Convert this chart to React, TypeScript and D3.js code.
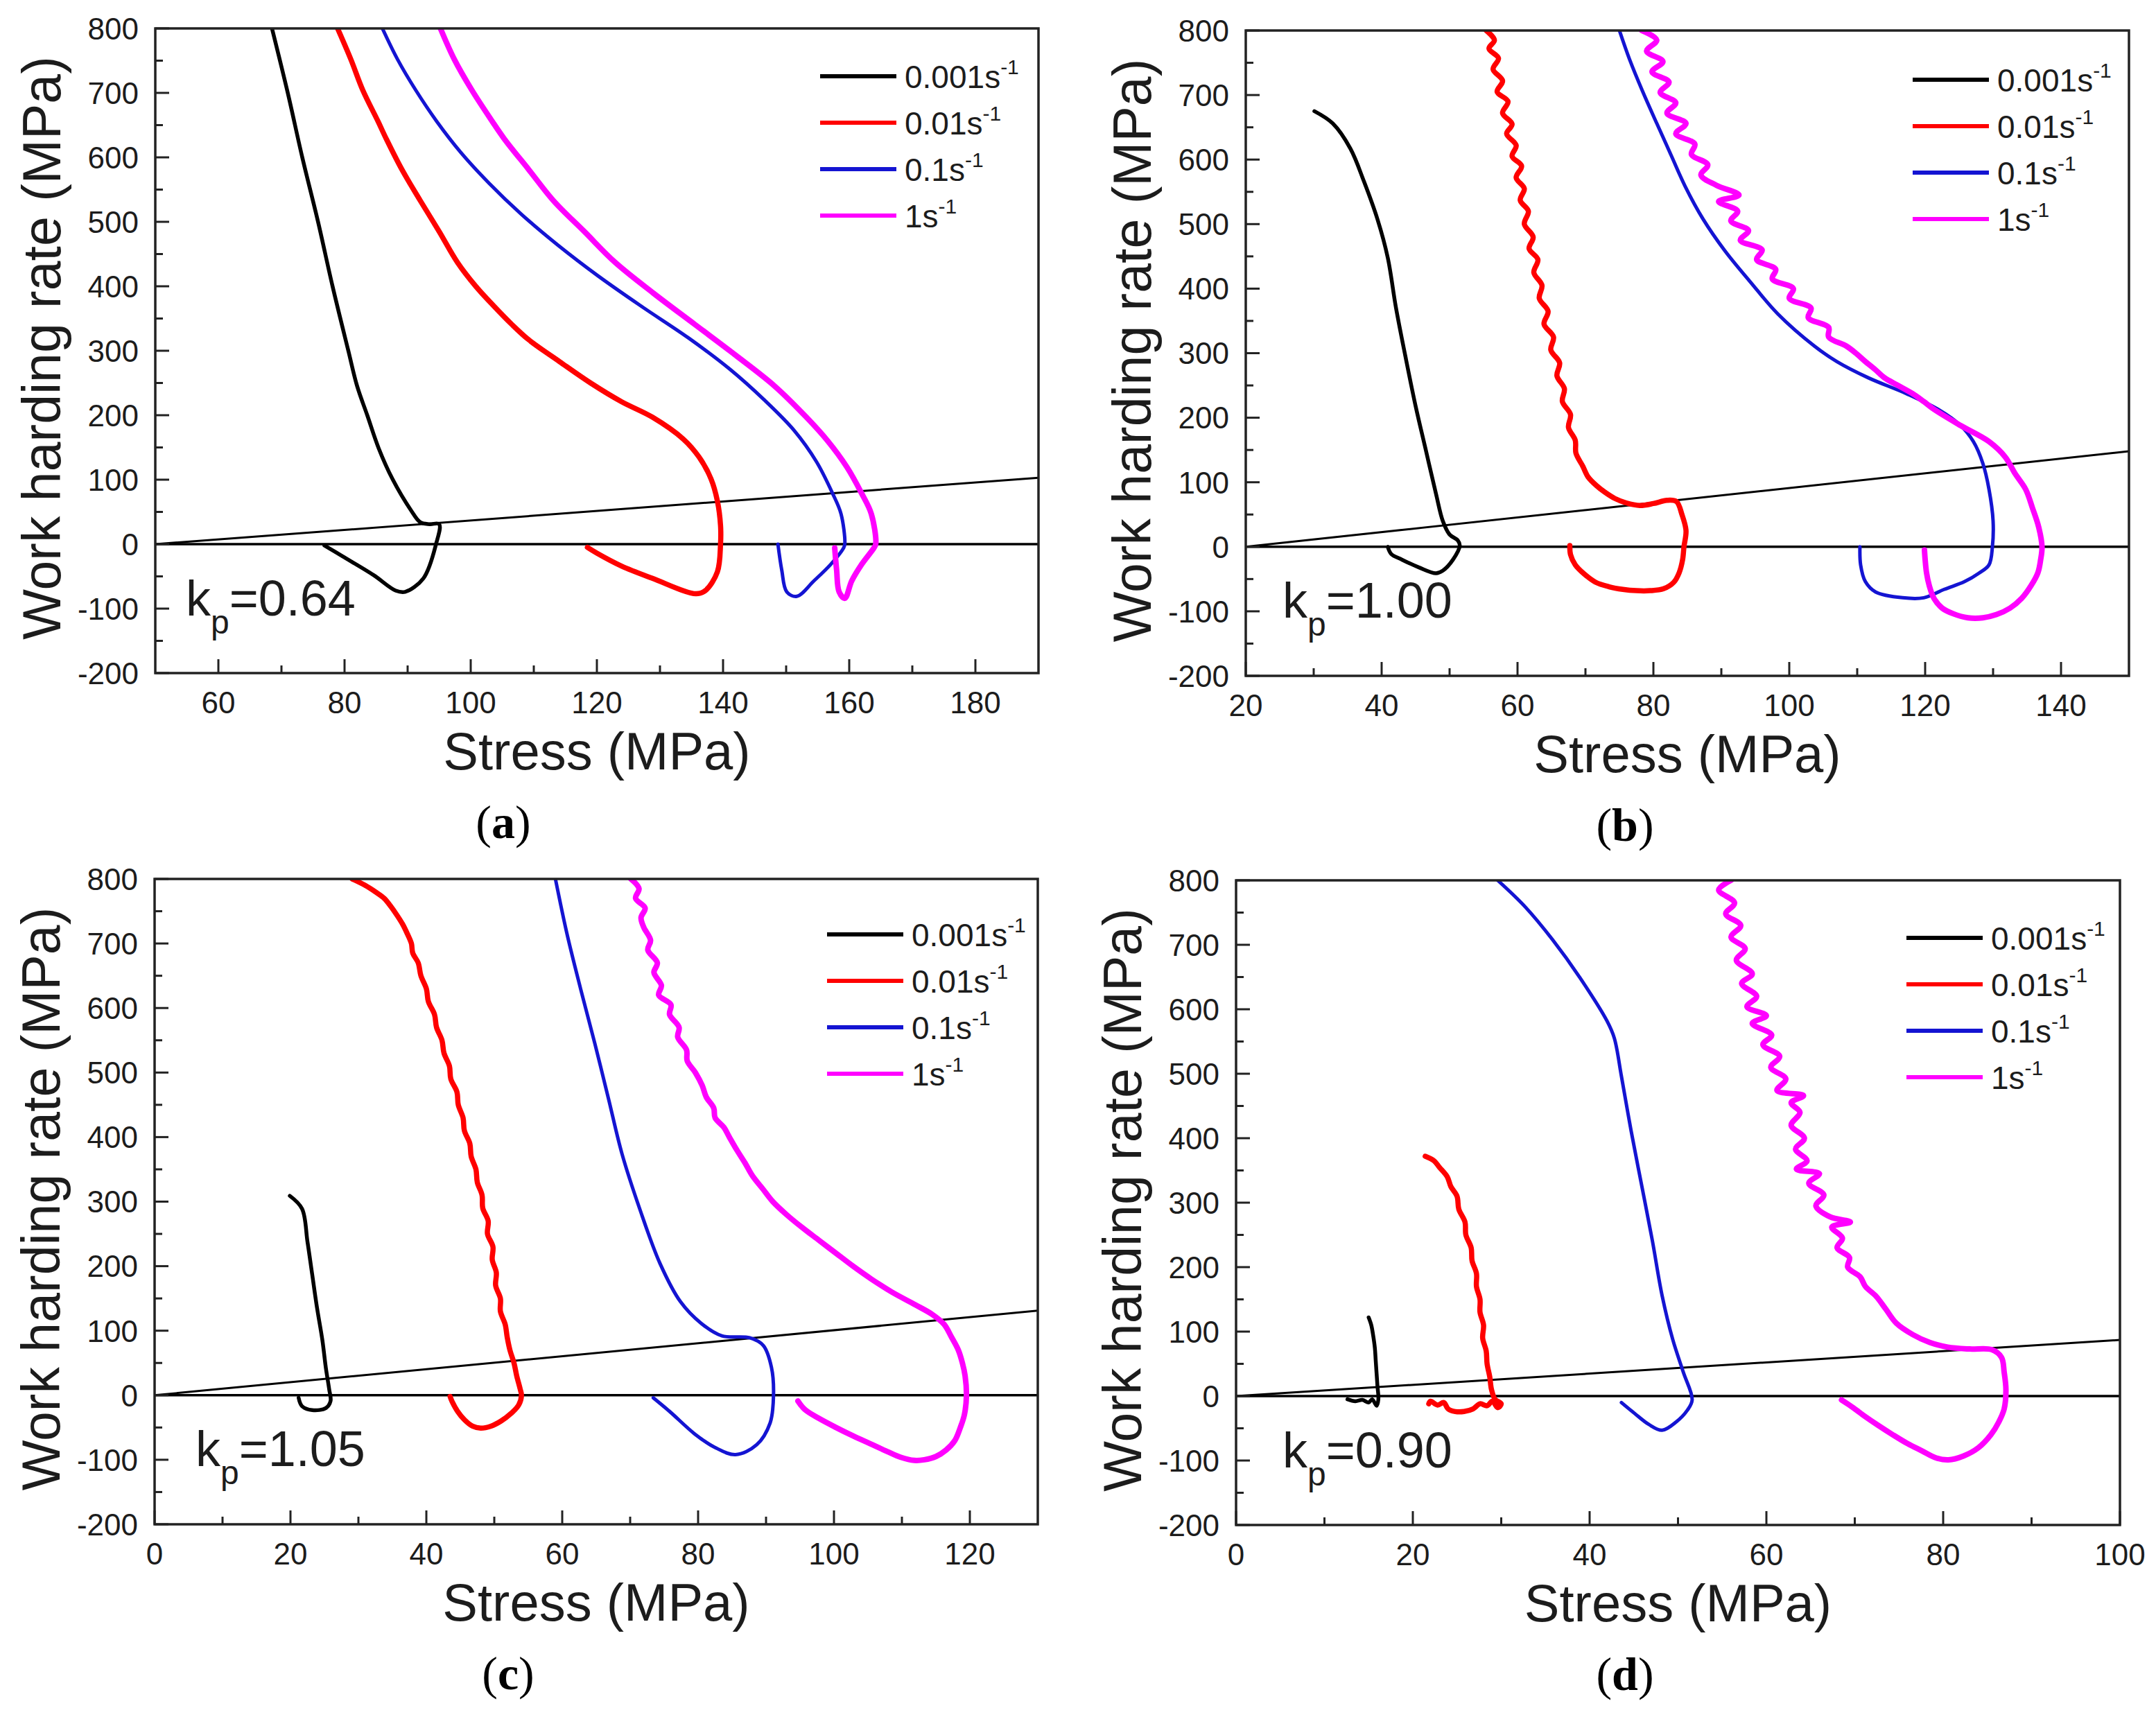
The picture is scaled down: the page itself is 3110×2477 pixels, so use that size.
import * as d3 from 'd3';

type Pt = [number, number];

// strain rate legend
const rateLabels = ['0.001', '0.01', '0.1', '1'];
const rateColors = ['#000000', '#ff0000', '#1414d2', '#ff00ff'];

const panelLetters = ['a', 'b', 'c', 'd'];
const kpValues = ['0.64', '1.00', '1.05', '0.90'];
const xDomains: Pt[] = [[50, 190], [20, 150], [0, 130], [0, 100]];
const xTickLabels = [
  [60, 80, 100, 120, 140, 160, 180],
  [20, 40, 60, 80, 100, 120, 140],
  [0, 20, 40, 60, 80, 100, 120],
  [0, 20, 40, 60, 80, 100],
];
const yTickLabels = [-200, -100, 0, 100, 200, 300, 400, 500, 600, 700, 800];

// sloped reference line (two ends) per panel
const kpLines: Pt[][] = [
  [[50, 0], [190, 103]],
  [[20, 0], [150, 148]],
  [[0, 0], [130, 131]],
  [[0, 0], [100, 87]],
];

// ---- panel (a) ----
const aBlack: Pt[] = [[68.5, 800], [71.0, 700], [73.3, 600], [75.8, 500], [78.1, 400], [80.6, 300], [82.0, 245], [83.6, 200], [85.4, 149], [87.6, 101], [90.5, 53], [92.0, 34], [93.5, 31], [95.0, 31], [94.5, 0], [92.5, -53], [89.6, -74], [88.1, -72], [84.6, -48], [79.7, -19], [76.8, -2]];
const aRed: Pt[] = [[78.9, 800], [81.0, 752], [82.9, 704], [85.3, 656], [86.6, 629], [89.1, 581], [92.0, 533], [95.0, 485], [97.9, 437], [100.8, 400], [103.6, 370], [106.5, 341], [109.2, 317], [114.1, 283], [119.0, 250], [123.9, 221], [128.8, 197], [133.7, 163], [136.2, 135], [138.1, 101], [139.1, 67], [139.6, 29], [139.6, 0], [139.1, -43], [137.2, -72], [135.7, -77], [128.8, -53], [123.9, -34], [120.0, -14], [118.5, -5]];
const aBlue: Pt[] = [[86.0, 800], [88.4, 752], [91.3, 704], [94.6, 656], [98.4, 608], [102.9, 560], [108.0, 512], [113.8, 464], [120.2, 416], [127.2, 368], [134.5, 320], [141.0, 272], [146.5, 224], [151.3, 176], [154.8, 128], [157.3, 80], [158.7, 47], [159.3, 0], [159.1, -6], [157.1, -31], [154.4, -57], [151.7, -81], [150.1, -74], [149.3, -40], [148.7, 0]];
const aPink: Pt[] = [[95.2, 800], [97.4, 752], [100.2, 704], [103.4, 656], [105.3, 629], [109.2, 581], [113.1, 533], [118.0, 485], [122.9, 437], [129.0, 389], [135.5, 341], [142.0, 293], [148.2, 245], [153.2, 197], [156.6, 160], [159.6, 120], [161.9, 80], [163.5, 47], [164.2, 0], [163.9, -6], [162.0, -31], [160.4, -57], [159.3, -84], [158.4, -74], [158.0, -40], [157.7, -6]];

// ---- panel (b) ----
const bBlack: Pt[] = [[30.1, 675], [32.8, 656], [35.4, 617], [37.4, 566], [39.4, 507], [40.9, 448], [42.1, 371], [43.5, 295], [45.0, 218], [46.5, 150], [48.0, 82], [49.0, 40], [50.0, 19], [51.2, 10], [51.5, 2], [50.5, -20], [49.0, -37], [48.0, -41], [45.5, -32], [43.0, -20], [41.4, -11], [40.9, 0]];
const bRed: Pt[] = [[55.4, 800], [56.6, 785], [55.8, 772], [57.2, 757], [56.4, 740], [57.8, 722], [57.0, 705], [58.6, 690], [57.8, 672], [59.2, 655], [58.4, 640], [59.8, 622], [59.2, 605], [60.6, 590], [59.8, 572], [61.0, 555], [60.4, 537], [61.6, 520], [61.0, 500], [62.3, 480], [61.7, 462], [63.0, 445], [62.4, 425], [63.6, 405], [63.2, 385], [64.5, 365], [63.9, 345], [65.3, 325], [64.9, 305], [66.2, 285], [65.8, 265], [66.9, 245], [66.6, 225], [67.8, 205], [67.5, 185], [68.5, 165], [68.6, 145], [69.6, 125], [70.4, 108], [71.6, 95], [72.8, 85], [74.3, 75], [76.0, 68], [78.0, 64], [80.0, 67], [82.0, 72], [83.4, 70], [84.2, 50], [84.8, 25], [84.5, 0], [84.3, -20], [83.8, -40], [83.0, -55], [81.5, -65], [79.5, -68], [77.5, -68], [75.5, -66], [73.5, -62], [71.5, -55], [69.8, -42], [68.5, -28], [67.8, -12], [67.7, 2]];
const bBlue: Pt[] = [[75.0, 800], [76.5, 755], [78.4, 706], [80.5, 656], [82.6, 607], [84.7, 558], [87.3, 508], [90.5, 459], [94.3, 410], [98.3, 361], [103.7, 311], [107.0, 287], [111.6, 262], [117.3, 237], [121.9, 213], [125.2, 188], [127.1, 163], [128.5, 129], [129.4, 89], [130.0, 40], [129.9, 0], [129.4, -28], [127.9, -41], [125.8, -54], [122.8, -66], [119.8, -79], [116.7, -79], [112.7, -70], [111.2, -54], [110.5, -28], [110.4, 0]];
const bPink: Pt[] = [[78.3, 800], [80.5, 785], [79.0, 768], [81.4, 752], [79.8, 736], [82.3, 720], [81.0, 704], [83.3, 688], [82.0, 672], [84.8, 656], [83.3, 640], [86.1, 624], [85.6, 608], [88.0, 592], [87.0, 576], [89.3, 560], [92.6, 545], [89.6, 535], [92.4, 520], [91.4, 505], [94.0, 490], [92.8, 475], [96.0, 460], [95.2, 445], [98.0, 430], [97.5, 415], [100.6, 400], [100.0, 385], [103.2, 370], [102.8, 355], [105.8, 340], [105.8, 325], [108.4, 311], [109.8, 300], [111.2, 287], [112.6, 275], [114.0, 262], [116.0, 250], [118.2, 237], [119.8, 225], [121.3, 213], [125.2, 188], [129.4, 163], [131.8, 139], [133.2, 114], [134.8, 89], [135.8, 60], [136.7, 31], [137.2, 0], [137.0, -20], [136.6, -40], [135.6, -60], [134.2, -80], [132.5, -95], [130.5, -105], [128.5, -110], [126.3, -110], [124.2, -104], [122.5, -95], [121.3, -80], [120.6, -60], [120.2, -40], [120.0, -20], [119.9, -5]];

// ---- panel (c) ----
const cBlack: Pt[] = [[19.9, 309], [21.7, 289], [22.5, 238], [23.2, 187], [23.9, 136], [24.7, 85], [25.2, 43], [25.7, 9], [25.9, -9], [25.2, -20], [23.2, -23], [21.7, -17], [21.2, -4]];
const cRed: Pt[] = [[29.1, 800], [31.0, 790], [32.5, 780], [33.8, 770], [34.8, 757], [35.6, 745], [36.5, 730], [37.2, 715], [37.8, 700], [38.0, 685], [38.8, 670], [39.2, 650], [40.0, 630], [40.3, 610], [41.2, 590], [41.5, 570], [42.3, 550], [42.6, 530], [43.4, 510], [43.6, 490], [44.5, 470], [44.7, 450], [45.4, 430], [45.6, 410], [46.4, 390], [46.6, 370], [47.3, 350], [47.5, 330], [48.2, 310], [48.3, 290], [49.1, 270], [49.0, 250], [49.8, 230], [49.7, 210], [50.3, 190], [50.2, 170], [50.9, 150], [50.9, 130], [51.6, 110], [51.9, 90], [52.3, 70], [52.9, 50], [53.3, 30], [53.8, 10], [54.0, 0], [53.6, -15], [52.5, -28], [51.0, -40], [49.5, -48], [48.0, -51], [46.8, -48], [45.6, -38], [44.6, -25], [43.8, -10], [43.5, -2]];
const cBlue: Pt[] = [[59.0, 800], [60.7, 715], [62.7, 630], [64.8, 545], [66.8, 460], [68.8, 374], [71.4, 289], [74.4, 204], [77.4, 145], [80.5, 111], [83.5, 92], [87.6, 89], [89.6, 77], [90.8, 43], [91.1, 0], [90.6, -43], [88.6, -77], [85.5, -92], [82.5, -81], [79.5, -60], [75.9, -26], [73.4, -4]];
const cPink: Pt[] = [[70.1, 800], [71.3, 785], [70.8, 770], [72.2, 755], [71.6, 740], [72.0, 725], [73.0, 705], [72.6, 690], [74.0, 670], [73.5, 655], [74.6, 635], [74.2, 620], [76.0, 605], [75.8, 590], [77.2, 570], [77.0, 555], [78.3, 535], [78.4, 518], [79.6, 500], [80.6, 480], [81.2, 462], [82.3, 445], [82.5, 430], [83.8, 415], [84.6, 400], [85.7, 380], [86.9, 360], [88.0, 340], [89.5, 320], [91.0, 300], [93.0, 280], [95.3, 260], [97.8, 240], [100.3, 220], [102.8, 200], [105.5, 180], [108.5, 160], [112.0, 140], [114.5, 125], [116.2, 110], [117.3, 90], [118.3, 70], [118.9, 50], [119.3, 30], [119.5, 0], [119.2, -30], [118.6, -50], [117.8, -70], [116.5, -85], [115.0, -95], [113.3, -100], [111.8, -101], [109.8, -96], [107.8, -87], [105.3, -75], [102.8, -63], [100.3, -50], [97.8, -36], [95.7, -22], [94.7, -9]];

// ---- panel (d) ----
const dBlack: Pt[] = [[15.0, 122], [15.3, 110], [15.5, 95], [15.7, 75], [15.8, 55], [15.9, 35], [16.0, 15], [16.1, -5], [15.9, -15], [15.4, -5], [15.0, -10], [14.3, -6], [13.5, -8], [12.6, -5]];
const dRed: Pt[] = [[21.4, 372], [22.4, 365], [23.0, 355], [23.9, 340], [24.3, 325], [25.0, 310], [25.2, 290], [25.9, 270], [26.0, 250], [26.6, 230], [26.7, 210], [27.2, 190], [27.2, 170], [27.6, 150], [27.6, 130], [28.0, 110], [27.9, 90], [28.3, 70], [28.4, 50], [28.7, 30], [28.9, 10], [29.3, -5], [30.0, -12], [29.6, -18], [29.0, -8], [28.4, -15], [27.6, -12], [26.8, -20], [25.8, -24], [24.8, -24], [24.0, -20], [23.5, -10], [22.8, -14], [22.0, -8], [21.8, -12]];
const dBlue: Pt[] = [[29.6, 800], [32.7, 759], [35.8, 708], [38.9, 649], [42.0, 581], [42.8, 555], [43.6, 496], [44.7, 411], [45.9, 326], [47.1, 241], [48.2, 156], [49.4, 88], [50.6, 37], [51.6, -6], [51.0, -23], [49.8, -40], [48.2, -53], [46.7, -44], [45.1, -27], [43.6, -10]];
const dPink: Pt[] = [[56.0, 800], [54.6, 785], [56.4, 765], [55.4, 748], [57.1, 730], [56.0, 712], [57.6, 694], [56.6, 676], [58.4, 655], [57.2, 640], [58.9, 620], [57.8, 604], [60.0, 590], [58.4, 578], [60.6, 560], [59.6, 545], [61.5, 527], [60.5, 510], [62.2, 492], [61.2, 474], [64.2, 466], [62.8, 455], [63.8, 440], [62.8, 420], [64.3, 400], [63.3, 383], [64.6, 365], [63.4, 352], [66.0, 345], [64.8, 330], [66.5, 312], [65.6, 295], [67.2, 278], [69.5, 270], [67.4, 262], [68.6, 245], [68.0, 230], [69.4, 215], [69.2, 200], [70.6, 185], [71.2, 170], [72.4, 155], [73.5, 135], [74.7, 113], [76.6, 95], [78.5, 83], [80.5, 76], [83.0, 73], [85.5, 72], [86.6, 60], [86.9, 37], [87.1, 10], [86.9, -20], [86.3, -40], [85.4, -60], [84.0, -80], [82.3, -93], [80.6, -99], [79.2, -96], [77.6, -85], [76.0, -74], [74.3, -60], [72.6, -45], [71.0, -30], [69.5, -15], [68.5, -6]];

const panelSeries: Pt[][][] = [
  [aBlack, aRed, aBlue, aPink],
  [bBlack, bRed, bBlue, bPink],
  [cBlack, cRed, cBlue, cPink],
  [dBlack, dRed, dBlue, dPink],
];

const SANS = 'Liberation Sans, Arial, sans-serif';
const SERIF = 'Liberation Serif, Times New Roman, serif';
const INK = '#1c1c1c';

// plot frames in page pixels
const frames = [
  { x: 224, y: 41, w: 1274, h: 930, letterX: 726, kpDx: 44, legY: 69, legX: 959 },
  { x: 1797, y: 44, w: 1274, h: 931, letterX: 2344, kpDx: 53, legY: 71, legX: 962 },
  { x: 223, y: 1268, w: 1274, h: 931, letterX: 733, kpDx: 59, legY: 80, legX: 970 },
  { x: 1783, y: 1270, w: 1275, h: 930, letterX: 2344, kpDx: 67, legY: 83, legX: 967 },
];
const lineWidths = [5.5, 7.5, 5, 8];

function Panel({ i }: { i: number }) {
  const f = frames[i];
  const x = d3.scaleLinear().domain(xDomains[i]).range([f.x, f.x + f.w]);
  const y = d3.scaleLinear().domain([-200, 800]).range([f.y + f.h, f.y]);
  const line = d3
    .line<Pt>()
    .x((d) => x(d[0]))
    .y((d) => y(d[1]))
    .curve(d3.curveCatmullRom.alpha(0.5));
  const straight = d3
    .line<Pt>()
    .x((d) => x(d[0]))
    .y((d) => y(d[1]));

  const xt = xTickLabels[i];
  const step = xt[1] - xt[0];
  const xMinor = d3
    .range(xDomains[i][0], xDomains[i][1] + 0.01, step / 2)
    .filter((v) => !xt.includes(v) && v > xDomains[i][0] && v < xDomains[i][1]);
  const yMinor = d3.range(-150, 800, 100);
  const clipId = `clip-${i}`;
  const bottom = f.y + f.h;

  return (
    <g>
      <defs>
        <clipPath id={clipId}>
          <rect x={f.x} y={f.y} width={f.w} height={f.h} />
        </clipPath>
      </defs>

      <g clipPath={`url(#${clipId})`}>
        <line x1={f.x} x2={f.x + f.w} y1={y(0)} y2={y(0)} stroke="#000" strokeWidth={3.5} />
        <path d={straight(kpLines[i]) ?? undefined} fill="none" stroke="#000" strokeWidth={3} />
        {panelSeries[i].map((s, k) => (
          <path
            key={k}
            d={line(s) ?? undefined}
            fill="none"
            stroke={rateColors[k]}
            strokeWidth={lineWidths[k]}
            strokeLinejoin="round"
            strokeLinecap="round"
          />
        ))}
      </g>

      {/* frame */}
      <rect x={f.x} y={f.y} width={f.w} height={f.h} fill="none" stroke="#222" strokeWidth={3.5} />

      {/* y ticks */}
      {yTickLabels.map((v) => (
        <g key={`y${v}`}>
          <line x1={f.x} x2={f.x + 20} y1={y(v)} y2={y(v)} stroke="#222" strokeWidth={3} />
          <text x={f.x - 24} y={y(v)} dy="0.36em" textAnchor="end" fontFamily={SANS} fontSize={44} fill={INK}>
            {v}
          </text>
        </g>
      ))}
      {yMinor.map((v) => (
        <line key={`ym${v}`} x1={f.x} x2={f.x + 11} y1={y(v)} y2={y(v)} stroke="#222" strokeWidth={3} />
      ))}

      {/* x ticks */}
      {xt.map((v) => (
        <g key={`x${v}`}>
          <line x1={x(v)} x2={x(v)} y1={bottom} y2={bottom - 20} stroke="#222" strokeWidth={3} />
          <text x={x(v)} y={bottom + 58} textAnchor="middle" fontFamily={SANS} fontSize={44} fill={INK}>
            {v}
          </text>
        </g>
      ))}
      {xMinor.map((v) => (
        <line key={`xm${v}`} x1={x(v)} x2={x(v)} y1={bottom} y2={bottom - 11} stroke="#222" strokeWidth={3} />
      ))}

      {/* axis titles */}
      <text
        transform={`translate(${f.x - 137},${f.y + f.h / 2 - 4}) rotate(-90)`}
        textAnchor="middle"
        fontFamily={SANS}
        fontSize={77}
        fill={INK}
      >
        Work harding rate (MPa)
      </text>
      <text x={f.x + f.w / 2} y={bottom + 139} textAnchor="middle" fontFamily={SANS} fontSize={76} fill={INK}>
        Stress (MPa)
      </text>

      {/* kp annotation */}
      <text x={f.x + f.kpDx} y={f.y + 847} fontFamily={SANS} fontSize={72} fill={INK}>
        k
        <tspan fontSize={48} dy={26}>
          p
        </tspan>
        <tspan fontSize={72} dy={-26}>
          ={kpValues[i]}
        </tspan>
      </text>

      {/* legend */}
      {rateLabels.map((r, k) => {
        const ly = f.y + f.legY + k * 67;
        return (
          <g key={r}>
            <line
              x1={f.x + f.legX}
              x2={f.x + f.legX + 110}
              y1={ly}
              y2={ly}
              stroke={rateColors[k]}
              strokeWidth={6}
            />
            <text x={f.x + f.legX + 122} y={ly + 17} fontFamily={SANS} fontSize={46} fill={INK}>
              {r}s
              <tspan fontSize={30} dy={-20}>
                -1
              </tspan>
            </text>
          </g>
        );
      })}

      {/* panel letter */}
      <text x={f.letterX} y={bottom + 238} textAnchor="middle" fontFamily={SERIF} fontSize={68} fill="#000">
        (<tspan fontWeight="bold">{panelLetters[i]}</tspan>)
      </text>
    </g>
  );
}

export default function App() {
  return (
    <svg
      width={3110}
      height={2477}
      viewBox="0 0 3110 2477"
      style={{ position: 'absolute', left: 0, top: 0, background: '#fff' }}
    >
      <rect width={3110} height={2477} fill="#fff" />
      {frames.map((_, i) => (
        <Panel key={i} i={i} />
      ))}
    </svg>
  );
}
